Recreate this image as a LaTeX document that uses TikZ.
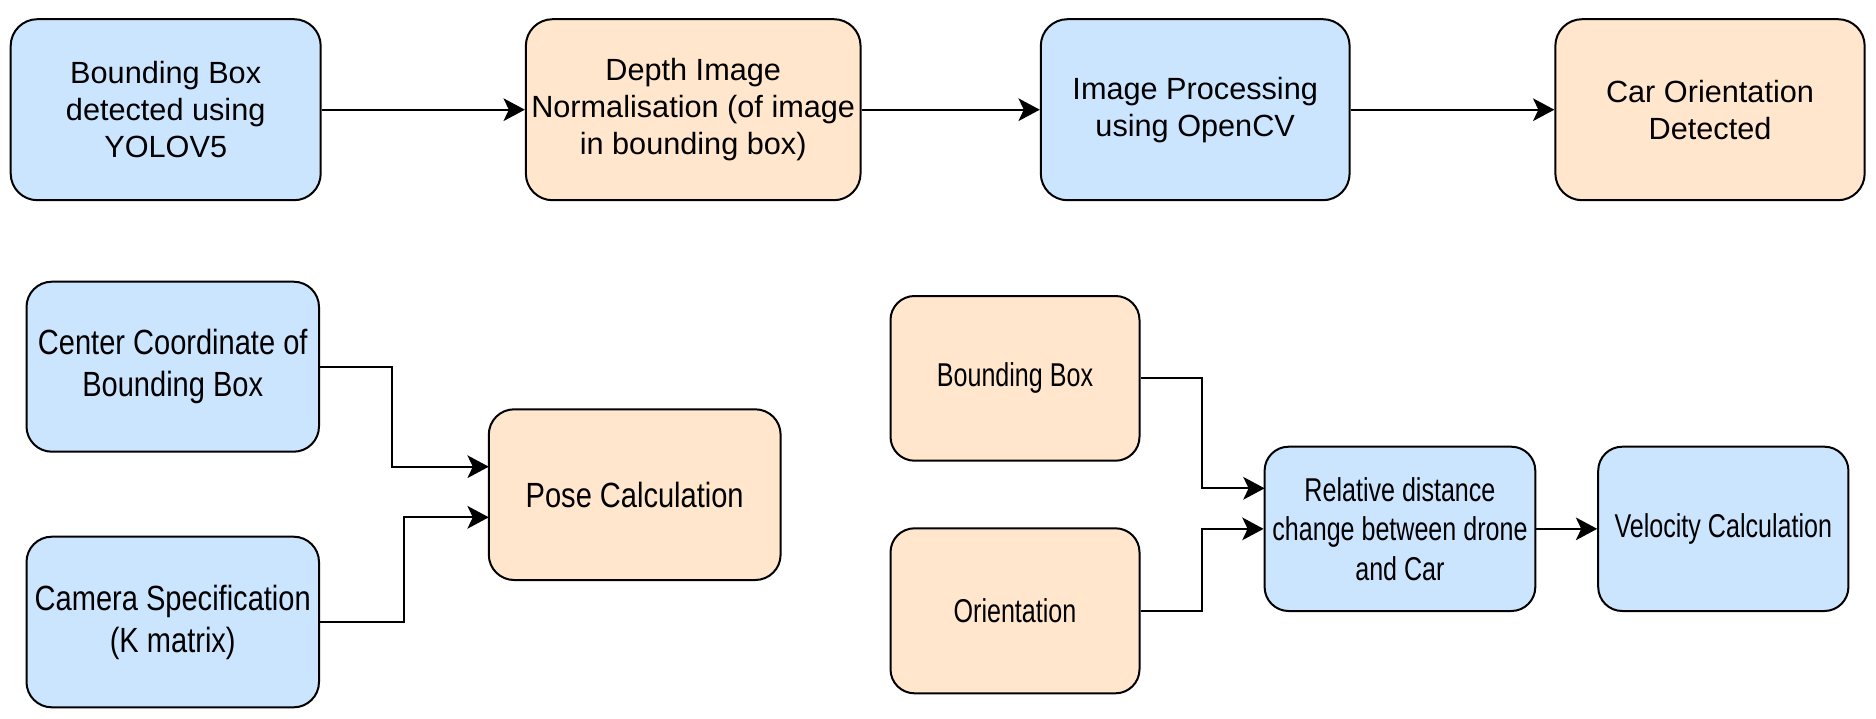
\documentclass[tikz,border=0pt]{standalone}
\usepackage{fontspec}
\setmainfont{Liberation Sans}
\newfontfamily\narrowL[FakeStretch=0.83]{Liberation Sans}
\newfontfamily\narrowR[FakeStretch=0.76]{Liberation Sans}
\usetikzlibrary{arrows.meta,calc}
\definecolor{bluefill}{HTML}{CCE5FF}
\definecolor{orangefill}{HTML}{FFE6CC}
\tikzset{
  box/.style={draw=black, line width=1.5pt, rounded corners=20pt, inner sep=0pt, align=center, text=black},
  topfont/.style={font=\fontsize{23}{27.6}\selectfont},
  leftfont/.style={font=\narrowL\fontsize{26.25}{31.5}\selectfont, rounded corners=19pt},
  rightfont/.style={font=\narrowR\fontsize{24.75}{29.6}\selectfont, rounded corners=18pt},
  bluebox/.style={box, fill=bluefill},
  orangebox/.style={box, fill=orangefill},
  arr/.style={draw=black, line width=1.5pt, -{Stealth[length=16pt, width=17pt, inset=4pt]}},
}
\begin{document}
\begin{tikzpicture}[x=0.75pt, y=-0.75pt]
\useasboundingbox (0,0) rectangle (1876,718);
% top row
\node[bluebox, topfont, minimum width=310*0.75pt, minimum height=181*0.75pt] (b1) at (165.7,109.7) {Bounding Box\\detected using\\YOLOV5};
\node[orangebox, topfont, minimum width=334.7*0.75pt, minimum height=181*0.75pt] (b2) at (693.2,109.7) {Depth Image\\Normalisation (of image\\in bounding box)};
\node[bluebox, topfont, minimum width=308.8*0.75pt, minimum height=181*0.75pt] (b3) at (1195.2,109.7) {Image Processing\\using OpenCV};
\node[orangebox, topfont, minimum width=309.3*0.75pt, minimum height=181*0.75pt] (b4) at (1710,109.7) {Car Orientation\\Detected};
\draw[arr] (b1.east) -- (b2.west);
\draw[arr] (b2.east) -- (b3.west);
\draw[arr] (b3.east) -- (b4.west);
% bottom left
\node[bluebox, leftfont, minimum width=292.5*0.75pt, minimum height=170*0.75pt] (cc) at (172.75,366.7) {Center Coordinate of\\Bounding Box};
\node[bluebox, leftfont, minimum width=292.5*0.75pt, minimum height=170.6*0.75pt] (cam) at (172.75,622) {Camera Specification\\(K matrix)};
\node[orangebox, leftfont, minimum width=291.8*0.75pt, minimum height=170.7*0.75pt] (pose) at (634.7,494.65) {Pose Calculation};
\coordinate (p1) at (488.8,466.7);
\coordinate (p2) at (488.8,517.3);
\coordinate (j1) at (391.8,0);
\coordinate (j2) at (404,0);
\draw[arr] (cc.east) -| (j1 |- p1) -- (p1);
\draw[arr] (cam.east) -| (j2 |- p2) -- (p2);
% bottom right
\node[orangebox, rightfont, minimum width=249*0.75pt, minimum height=164.7*0.75pt] (bb) at (1015,378.35) {Bounding Box};
\node[orangebox, rightfont, minimum width=249*0.75pt, minimum height=165*0.75pt] (ori) at (1015,610.8) {Orientation};
\node[bluebox, rightfont, minimum width=270.7*0.75pt, minimum height=164.3*0.75pt] (rel) at (1399.95,528.85) {Relative distance\\change between drone\\and Car};
\node[bluebox, rightfont, minimum width=250.2*0.75pt, minimum height=164.3*0.75pt] (vel) at (1723.3,528.85) {Velocity Calculation};
\coordinate (r1) at (1264.6,488.3);
\coordinate (j3) at (1202.4,0);
\draw[arr] (bb.east) -| (j3 |- r1) -- (r1);
\draw[arr] (ori.east) -| (j3 |- rel.west) -- (rel.west);
\draw[arr] (rel.east) -- (vel.west);
\end{tikzpicture}
\end{document}
